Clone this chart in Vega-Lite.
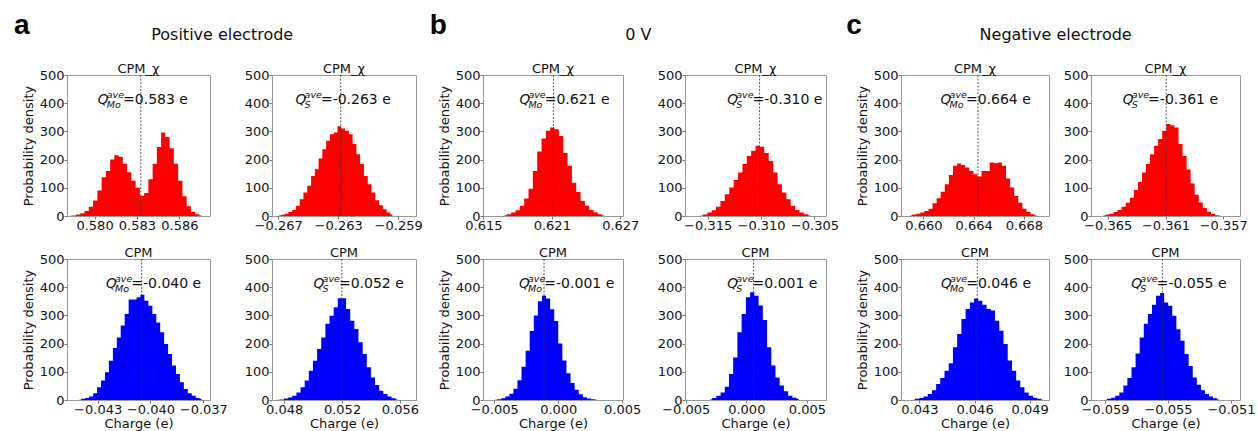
{
"$schema": "https://vega.github.io/schema/vega-lite/v6.json",
"padding": {"left": 13, "top": 11, "right": 0, "bottom": 0},
"spacing": 6,
"datasets": {
"m": [
{"p":"a1","m":0.58327,"s":"Mo","v":"=0.583 e"},
{"p":"a2","m":-0.26283,"s":"S","v":"=-0.263 e"},
{"p":"a3","m":-0.0405,"s":"Mo","v":"=-0.040 e"},
{"p":"a4","m":0.05199,"s":"S","v":"=0.052 e"},
{"p":"b1","m":0.62114,"s":"Mo","v":"=0.621 e"},
{"p":"b2","m":-0.31014,"s":"S","v":"=-0.310 e"},
{"p":"b3","m":-0.00111,"s":"Mo","v":"=-0.001 e"},
{"p":"b4","m":0.0006,"s":"S","v":"=0.001 e"},
{"p":"c1","m":0.66435,"s":"Mo","v":"=0.664 e"},
{"p":"c2","m":-0.36095,"s":"S","v":"=-0.361 e"},
{"p":"c3","m":0.04615,"s":"Mo","v":"=0.046 e"},
{"p":"c4","m":-0.05536,"s":"S","v":"=-0.055 e"}
],
"h": [
{"p":"a1","x":0.57824,"d":1},{"p":"a1","x":0.57854,"d":2},{"p":"a1","x":0.57884,"d":5},{"p":"a1","x":0.57914,"d":10},{"p":"a1","x":0.57944,"d":18},{"p":"a1","x":0.57974,"d":33},{"p":"a1","x":0.58005,"d":55},{"p":"a1","x":0.58035,"d":90},{"p":"a1","x":0.58065,"d":137},{"p":"a1","x":0.58095,"d":160},{"p":"a1","x":0.58125,"d":200},{"p":"a1","x":0.58155,"d":215},{"p":"a1","x":0.58185,"d":210},{"p":"a1","x":0.58215,"d":185},{"p":"a1","x":0.58245,"d":155},{"p":"a1","x":0.58275,"d":125},{"p":"a1","x":0.58306,"d":100},{"p":"a1","x":0.58336,"d":72},{"p":"a1","x":0.58366,"d":82},{"p":"a1","x":0.58396,"d":130},{"p":"a1","x":0.58426,"d":185},{"p":"a1","x":0.58456,"d":245},{"p":"a1","x":0.58486,"d":296},{"p":"a1","x":0.58516,"d":280},{"p":"a1","x":0.58546,"d":240},{"p":"a1","x":0.58576,"d":185},{"p":"a1","x":0.58607,"d":125},{"p":"a1","x":0.58637,"d":70},{"p":"a1","x":0.58667,"d":35},{"p":"a1","x":0.58697,"d":15},{"p":"a1","x":0.58727,"d":6},{"p":"a1","x":0.58757,"d":2},
{"p":"a2","x":-0.26695,"d":2},{"p":"a2","x":-0.26670,"d":4},{"p":"a2","x":-0.26645,"d":8},{"p":"a2","x":-0.26619,"d":14},{"p":"a2","x":-0.26594,"d":21},{"p":"a2","x":-0.26569,"d":36},{"p":"a2","x":-0.26544,"d":59},{"p":"a2","x":-0.26519,"d":83},{"p":"a2","x":-0.26493,"d":107},{"p":"a2","x":-0.26468,"d":142},{"p":"a2","x":-0.26443,"d":166},{"p":"a2","x":-0.26418,"d":204},{"p":"a2","x":-0.26393,"d":237},{"p":"a2","x":-0.26367,"d":267},{"p":"a2","x":-0.26342,"d":290},{"p":"a2","x":-0.26317,"d":296},{"p":"a2","x":-0.26292,"d":318},{"p":"a2","x":-0.26267,"d":310},{"p":"a2","x":-0.26241,"d":302},{"p":"a2","x":-0.26216,"d":290},{"p":"a2","x":-0.26191,"d":255},{"p":"a2","x":-0.26166,"d":219},{"p":"a2","x":-0.26141,"d":184},{"p":"a2","x":-0.26115,"d":142},{"p":"a2","x":-0.26090,"d":113},{"p":"a2","x":-0.26065,"d":83},{"p":"a2","x":-0.26040,"d":56},{"p":"a2","x":-0.26015,"d":38},{"p":"a2","x":-0.25989,"d":24},{"p":"a2","x":-0.25964,"d":12},{"p":"a2","x":-0.25939,"d":5},
{"p":"a3","x":-0.04404,"d":1},{"p":"a3","x":-0.04382,"d":4},{"p":"a3","x":-0.04359,"d":7},{"p":"a3","x":-0.04337,"d":12},{"p":"a3","x":-0.04314,"d":24},{"p":"a3","x":-0.04292,"d":45},{"p":"a3","x":-0.04270,"d":69},{"p":"a3","x":-0.04247,"d":98},{"p":"a3","x":-0.04225,"d":139},{"p":"a3","x":-0.04202,"d":184},{"p":"a3","x":-0.04180,"d":222},{"p":"a3","x":-0.04158,"d":264},{"p":"a3","x":-0.04135,"d":305},{"p":"a3","x":-0.04113,"d":356},{"p":"a3","x":-0.04090,"d":356},{"p":"a3","x":-0.04068,"d":364},{"p":"a3","x":-0.04046,"d":373},{"p":"a3","x":-0.04023,"d":352},{"p":"a3","x":-0.04001,"d":334},{"p":"a3","x":-0.03978,"d":305},{"p":"a3","x":-0.03956,"d":275},{"p":"a3","x":-0.03934,"d":240},{"p":"a3","x":-0.03911,"d":199},{"p":"a3","x":-0.03889,"d":163},{"p":"a3","x":-0.03866,"d":122},{"p":"a3","x":-0.03844,"d":92},{"p":"a3","x":-0.03822,"d":63},{"p":"a3","x":-0.03799,"d":39},{"p":"a3","x":-0.03777,"d":24},{"p":"a3","x":-0.03754,"d":15},{"p":"a3","x":-0.03732,"d":7},{"p":"a3","x":-0.03710,"d":4},
{"p":"a4","x":0.04756,"d":1},{"p":"a4","x":0.04785,"d":2},{"p":"a4","x":0.04813,"d":5},{"p":"a4","x":0.04842,"d":9},{"p":"a4","x":0.04870,"d":15},{"p":"a4","x":0.04899,"d":27},{"p":"a4","x":0.04928,"d":45},{"p":"a4","x":0.04956,"d":69},{"p":"a4","x":0.04985,"d":104},{"p":"a4","x":0.05013,"d":139},{"p":"a4","x":0.05042,"d":181},{"p":"a4","x":0.05071,"d":222},{"p":"a4","x":0.05099,"d":270},{"p":"a4","x":0.05128,"d":299},{"p":"a4","x":0.05156,"d":329},{"p":"a4","x":0.05185,"d":361},{"p":"a4","x":0.05214,"d":361},{"p":"a4","x":0.05242,"d":323},{"p":"a4","x":0.05271,"d":281},{"p":"a4","x":0.05299,"d":252},{"p":"a4","x":0.05328,"d":205},{"p":"a4","x":0.05357,"d":163},{"p":"a4","x":0.05385,"d":116},{"p":"a4","x":0.05414,"d":80},{"p":"a4","x":0.05442,"d":53},{"p":"a4","x":0.05471,"d":33},{"p":"a4","x":0.05500,"d":21},{"p":"a4","x":0.05528,"d":12},{"p":"a4","x":0.05557,"d":6},{"p":"a4","x":0.05585,"d":2},
{"p":"b1","x":0.61687,"d":3},{"p":"b1","x":0.61725,"d":6},{"p":"b1","x":0.61763,"d":12},{"p":"b1","x":0.61801,"d":20},{"p":"b1","x":0.61839,"d":36},{"p":"b1","x":0.61877,"d":62},{"p":"b1","x":0.61915,"d":97},{"p":"b1","x":0.61953,"d":160},{"p":"b1","x":0.61991,"d":229},{"p":"b1","x":0.62029,"d":275},{"p":"b1","x":0.62067,"d":302},{"p":"b1","x":0.62105,"d":314},{"p":"b1","x":0.62143,"d":308},{"p":"b1","x":0.62181,"d":284},{"p":"b1","x":0.62219,"d":223},{"p":"b1","x":0.62257,"d":178},{"p":"b1","x":0.62295,"d":118},{"p":"b1","x":0.62333,"d":85},{"p":"b1","x":0.62371,"d":53},{"p":"b1","x":0.62409,"d":36},{"p":"b1","x":0.62447,"d":21},{"p":"b1","x":0.62485,"d":12},{"p":"b1","x":0.62523,"d":6},{"p":"b1","x":0.62561,"d":2},
{"p":"b2","x":-0.31565,"d":2},{"p":"b2","x":-0.31524,"d":5},{"p":"b2","x":-0.31483,"d":12},{"p":"b2","x":-0.31442,"d":20},{"p":"b2","x":-0.31401,"d":33},{"p":"b2","x":-0.31360,"d":53},{"p":"b2","x":-0.31318,"d":77},{"p":"b2","x":-0.31277,"d":101},{"p":"b2","x":-0.31236,"d":128},{"p":"b2","x":-0.31195,"d":154},{"p":"b2","x":-0.31154,"d":184},{"p":"b2","x":-0.31113,"d":213},{"p":"b2","x":-0.31072,"d":231},{"p":"b2","x":-0.31031,"d":249},{"p":"b2","x":-0.30990,"d":246},{"p":"b2","x":-0.30949,"d":223},{"p":"b2","x":-0.30907,"d":195},{"p":"b2","x":-0.30866,"d":154},{"p":"b2","x":-0.30825,"d":113},{"p":"b2","x":-0.30784,"d":83},{"p":"b2","x":-0.30743,"d":59},{"p":"b2","x":-0.30702,"d":36},{"p":"b2","x":-0.30661,"d":21},{"p":"b2","x":-0.30620,"d":12},{"p":"b2","x":-0.30579,"d":6},{"p":"b2","x":-0.30538,"d":2},
{"p":"b3","x":-0.00494,"d":1},{"p":"b3","x":-0.00462,"d":3},{"p":"b3","x":-0.00430,"d":6},{"p":"b3","x":-0.00398,"d":12},{"p":"b3","x":-0.00366,"d":22},{"p":"b3","x":-0.00335,"d":40},{"p":"b3","x":-0.00303,"d":70},{"p":"b3","x":-0.00271,"d":118},{"p":"b3","x":-0.00239,"d":175},{"p":"b3","x":-0.00207,"d":245},{"p":"b3","x":-0.00175,"d":300},{"p":"b3","x":-0.00143,"d":350},{"p":"b3","x":-0.00111,"d":370},{"p":"b3","x":-0.00079,"d":360},{"p":"b3","x":-0.00047,"d":322},{"p":"b3","x":-0.00016,"d":280},{"p":"b3","x":0.00016,"d":200},{"p":"b3","x":0.00048,"d":140},{"p":"b3","x":0.00080,"d":95},{"p":"b3","x":0.00112,"d":60},{"p":"b3","x":0.00144,"d":36},{"p":"b3","x":0.00176,"d":20},{"p":"b3","x":0.00208,"d":10},{"p":"b3","x":0.00240,"d":5},{"p":"b3","x":0.00272,"d":3},{"p":"b3","x":0.00304,"d":1},
{"p":"b4","x":-0.00300,"d":2},{"p":"b4","x":-0.00265,"d":7},{"p":"b4","x":-0.00230,"d":15},{"p":"b4","x":-0.00195,"d":27},{"p":"b4","x":-0.00160,"d":47},{"p":"b4","x":-0.00126,"d":92},{"p":"b4","x":-0.00091,"d":151},{"p":"b4","x":-0.00056,"d":240},{"p":"b4","x":-0.00021,"d":305},{"p":"b4","x":0.00014,"d":364},{"p":"b4","x":0.00049,"d":382},{"p":"b4","x":0.00084,"d":370},{"p":"b4","x":0.00119,"d":335},{"p":"b4","x":0.00154,"d":284},{"p":"b4","x":0.00189,"d":187},{"p":"b4","x":0.00224,"d":122},{"p":"b4","x":0.00258,"d":80},{"p":"b4","x":0.00293,"d":51},{"p":"b4","x":0.00328,"d":31},{"p":"b4","x":0.00363,"d":15},{"p":"b4","x":0.00398,"d":8},{"p":"b4","x":0.00433,"d":4},
{"p":"c1","x":0.65894,"d":2},{"p":"c1","x":0.65927,"d":5},{"p":"c1","x":0.65959,"d":8},{"p":"c1","x":0.65992,"d":12},{"p":"c1","x":0.66024,"d":18},{"p":"c1","x":0.66057,"d":26},{"p":"c1","x":0.66089,"d":45},{"p":"c1","x":0.66122,"d":63},{"p":"c1","x":0.66154,"d":86},{"p":"c1","x":0.66187,"d":113},{"p":"c1","x":0.66219,"d":145},{"p":"c1","x":0.66252,"d":178},{"p":"c1","x":0.66284,"d":186},{"p":"c1","x":0.66317,"d":181},{"p":"c1","x":0.66349,"d":172},{"p":"c1","x":0.66382,"d":160},{"p":"c1","x":0.66414,"d":148},{"p":"c1","x":0.66447,"d":140},{"p":"c1","x":0.66479,"d":160},{"p":"c1","x":0.66512,"d":160},{"p":"c1","x":0.66544,"d":190},{"p":"c1","x":0.66577,"d":187},{"p":"c1","x":0.66609,"d":190},{"p":"c1","x":0.66642,"d":178},{"p":"c1","x":0.66674,"d":133},{"p":"c1","x":0.66707,"d":101},{"p":"c1","x":0.66739,"d":71},{"p":"c1","x":0.66772,"d":47},{"p":"c1","x":0.66804,"d":26},{"p":"c1","x":0.66837,"d":14},{"p":"c1","x":0.66869,"d":6},{"p":"c1","x":0.66902,"d":2},
{"p":"c2","x":-0.36530,"d":2},{"p":"c2","x":-0.36502,"d":5},{"p":"c2","x":-0.36474,"d":8},{"p":"c2","x":-0.36446,"d":14},{"p":"c2","x":-0.36418,"d":21},{"p":"c2","x":-0.36390,"d":33},{"p":"c2","x":-0.36361,"d":47},{"p":"c2","x":-0.36333,"d":65},{"p":"c2","x":-0.36305,"d":92},{"p":"c2","x":-0.36277,"d":121},{"p":"c2","x":-0.36249,"d":154},{"p":"c2","x":-0.36221,"d":184},{"p":"c2","x":-0.36193,"d":219},{"p":"c2","x":-0.36165,"d":249},{"p":"c2","x":-0.36137,"d":273},{"p":"c2","x":-0.36109,"d":302},{"p":"c2","x":-0.36080,"d":326},{"p":"c2","x":-0.36052,"d":322},{"p":"c2","x":-0.36024,"d":314},{"p":"c2","x":-0.35996,"d":255},{"p":"c2","x":-0.35968,"d":213},{"p":"c2","x":-0.35940,"d":165},{"p":"c2","x":-0.35912,"d":115},{"p":"c2","x":-0.35884,"d":75},{"p":"c2","x":-0.35856,"d":48},{"p":"c2","x":-0.35828,"d":28},{"p":"c2","x":-0.35799,"d":15},{"p":"c2","x":-0.35771,"d":7},{"p":"c2","x":-0.35743,"d":3},{"p":"c2","x":-0.35715,"d":1},
{"p":"c3","x":0.04265,"d":1},{"p":"c3","x":0.04288,"d":4},{"p":"c3","x":0.04311,"d":7},{"p":"c3","x":0.04334,"d":12},{"p":"c3","x":0.04357,"d":21},{"p":"c3","x":0.04380,"d":35},{"p":"c3","x":0.04402,"d":57},{"p":"c3","x":0.04425,"d":78},{"p":"c3","x":0.04448,"d":104},{"p":"c3","x":0.04471,"d":130},{"p":"c3","x":0.04494,"d":187},{"p":"c3","x":0.04517,"d":234},{"p":"c3","x":0.04540,"d":287},{"p":"c3","x":0.04563,"d":323},{"p":"c3","x":0.04586,"d":346},{"p":"c3","x":0.04609,"d":360},{"p":"c3","x":0.04631,"d":352},{"p":"c3","x":0.04654,"d":338},{"p":"c3","x":0.04677,"d":323},{"p":"c3","x":0.04700,"d":317},{"p":"c3","x":0.04723,"d":281},{"p":"c3","x":0.04746,"d":246},{"p":"c3","x":0.04769,"d":199},{"p":"c3","x":0.04792,"d":140},{"p":"c3","x":0.04815,"d":104},{"p":"c3","x":0.04838,"d":69},{"p":"c3","x":0.04860,"d":45},{"p":"c3","x":0.04883,"d":27},{"p":"c3","x":0.04906,"d":15},{"p":"c3","x":0.04929,"d":8},{"p":"c3","x":0.04952,"d":4},{"p":"c3","x":0.04975,"d":1},
{"p":"c4","x":-0.05900,"d":1},{"p":"c4","x":-0.05874,"d":4},{"p":"c4","x":-0.05848,"d":8},{"p":"c4","x":-0.05822,"d":15},{"p":"c4","x":-0.05796,"d":27},{"p":"c4","x":-0.05771,"d":51},{"p":"c4","x":-0.05745,"d":78},{"p":"c4","x":-0.05719,"d":116},{"p":"c4","x":-0.05693,"d":165},{"p":"c4","x":-0.05667,"d":222},{"p":"c4","x":-0.05641,"d":270},{"p":"c4","x":-0.05615,"d":305},{"p":"c4","x":-0.05589,"d":338},{"p":"c4","x":-0.05563,"d":370},{"p":"c4","x":-0.05537,"d":379},{"p":"c4","x":-0.05512,"d":346},{"p":"c4","x":-0.05486,"d":334},{"p":"c4","x":-0.05460,"d":299},{"p":"c4","x":-0.05434,"d":251},{"p":"c4","x":-0.05408,"d":210},{"p":"c4","x":-0.05382,"d":163},{"p":"c4","x":-0.05356,"d":121},{"p":"c4","x":-0.05330,"d":80},{"p":"c4","x":-0.05304,"d":54},{"p":"c4","x":-0.05278,"d":35},{"p":"c4","x":-0.05253,"d":21},{"p":"c4","x":-0.05227,"d":12},{"p":"c4","x":-0.05201,"d":6},{"p":"c4","x":-0.05175,"d":2}
]
},
"hconcat": [
{"title": {"text": "a", "anchor": "start", "font": "Liberation Sans", "fontSize": 28, "fontWeight": "bold", "color": "#000", "offset": -34.8, "dx": -7.7, "baseline": "alphabetic"},
 "vconcat": [{"title": {"text": "Positive electrode", "anchor": "middle", "fontSize": 16, "offset": 7.1, "baseline": "alphabetic"},
  "columns": 2, "bounds": "flush", "spacing": {"row": 43, "column": 62},
  "concat": [
  {"width": 143, "height": 141, "title": "CPM_χ", "layer": [
   {"data": {"name": "h"}, "transform": [{"filter": "datum.p==='a1'"}], "mark": {"type": "area", "interpolate": "step", "color": "#ff0000"},
    "encoding": {"x": {"field": "x", "type": "quantitative", "scale": {"domain": [0.57805, 0.58817], "nice": false, "zero": false}, "axis": {"values": [0.580, 0.583, 0.586], "format": ".3f", "title": null}},
                 "y": {"field": "d", "type": "quantitative", "scale": {"domain": [0, 500], "nice": false}, "axis": {"values": [0, 100, 200, 300, 400, 500], "title": "Probability density"}}}},
   {"data": {"name": "m"}, "transform": [{"filter": "datum.p==='a1'"}], "mark": {"type": "rule", "color": "#333", "strokeWidth": 0.8, "strokeDash": [2, 1.5]}, "encoding": {"x": {"field": "m", "type": "quantitative"}}},
   {"data": {"name": "m"}, "transform": [{"filter": "datum.p==='a1'"}], "mark": {"type": "text", "text": "Q", "fontSize": 13.5, "fontStyle": "italic", "dx": -43}, "encoding": {"x": {"field": "m", "type": "quantitative"}, "y": {"datum": 397}}},
   {"data": {"name": "m"}, "transform": [{"filter": "datum.p==='a1'"}], "mark": {"type": "text", "text": "ave", "fontSize": 9.5, "fontStyle": "italic", "dx": -34, "dy": -6.5}, "encoding": {"x": {"field": "m", "type": "quantitative"}, "y": {"datum": 397}}},
   {"data": {"name": "m"}, "transform": [{"filter": "datum.p==='a1'"}], "mark": {"type": "text", "fontSize": 9.5, "fontStyle": "italic", "dx": -34, "dy": 3.5}, "encoding": {"x": {"field": "m", "type": "quantitative"}, "y": {"datum": 397}, "text": {"field": "s"}}},
   {"data": {"name": "m"}, "transform": [{"filter": "datum.p==='a1'"}], "mark": {"type": "text", "fontSize": 14, "dx": -17.7}, "encoding": {"x": {"field": "m", "type": "quantitative"}, "y": {"datum": 397}, "text": {"field": "v"}}}
  ]},
  {"width": 144, "height": 141, "title": "CPM_χ", "layer": [
   {"data": {"name": "h"}, "transform": [{"filter": "datum.p==='a2'"}], "mark": {"type": "area", "interpolate": "step", "color": "#ff0000"},
    "encoding": {"x": {"field": "x", "type": "quantitative", "scale": {"domain": [-0.26741, -0.25781], "nice": false, "zero": false}, "axis": {"values": [-0.267, -0.263, -0.259], "format": ".3f", "title": null}},
                 "y": {"field": "d", "type": "quantitative", "scale": {"domain": [0, 500], "nice": false}, "axis": {"values": [0, 100, 200, 300, 400, 500], "title": null}}}},
   {"data": {"name": "m"}, "transform": [{"filter": "datum.p==='a2'"}], "mark": {"type": "rule", "color": "#333", "strokeWidth": 0.8, "strokeDash": [2, 1.5]}, "encoding": {"x": {"field": "m", "type": "quantitative"}}},
   {"data": {"name": "m"}, "transform": [{"filter": "datum.p==='a2'"}], "mark": {"type": "text", "text": "Q", "fontSize": 13.5, "fontStyle": "italic", "dx": -45.1}, "encoding": {"x": {"field": "m", "type": "quantitative"}, "y": {"datum": 397}}},
   {"data": {"name": "m"}, "transform": [{"filter": "datum.p==='a2'"}], "mark": {"type": "text", "text": "ave", "fontSize": 9.5, "fontStyle": "italic", "dx": -36.1, "dy": -6.5}, "encoding": {"x": {"field": "m", "type": "quantitative"}, "y": {"datum": 397}}},
   {"data": {"name": "m"}, "transform": [{"filter": "datum.p==='a2'"}], "mark": {"type": "text", "fontSize": 9.5, "fontStyle": "italic", "dx": -36.1, "dy": 3.5}, "encoding": {"x": {"field": "m", "type": "quantitative"}, "y": {"datum": 397}, "text": {"field": "s"}}},
   {"data": {"name": "m"}, "transform": [{"filter": "datum.p==='a2'"}], "mark": {"type": "text", "fontSize": 14, "dx": -19.8}, "encoding": {"x": {"field": "m", "type": "quantitative"}, "y": {"datum": 397}, "text": {"field": "v"}}}
  ]},
  {"width": 143, "height": 141, "title": "CPM", "layer": [
   {"data": {"name": "h"}, "transform": [{"filter": "datum.p==='a3'"}], "mark": {"type": "area", "interpolate": "step", "color": "#0000ff"},
    "encoding": {"x": {"field": "x", "type": "quantitative", "scale": {"domain": [-0.04474, -0.03662], "nice": false, "zero": false}, "axis": {"values": [-0.043, -0.040, -0.037], "format": ".3f", "title": "Charge (e)"}},
                 "y": {"field": "d", "type": "quantitative", "scale": {"domain": [0, 500], "nice": false}, "axis": {"values": [0, 100, 200, 300, 400, 500], "title": "Probability density"}}}},
   {"data": {"name": "m"}, "transform": [{"filter": "datum.p==='a3'"}], "mark": {"type": "rule", "color": "#333", "strokeWidth": 0.8, "strokeDash": [2, 1.5]}, "encoding": {"x": {"field": "m", "type": "quantitative"}}},
   {"data": {"name": "m"}, "transform": [{"filter": "datum.p==='a3'"}], "mark": {"type": "text", "text": "Q", "fontSize": 13.5, "fontStyle": "italic", "dx": -35.7}, "encoding": {"x": {"field": "m", "type": "quantitative"}, "y": {"datum": 397}}},
   {"data": {"name": "m"}, "transform": [{"filter": "datum.p==='a3'"}], "mark": {"type": "text", "text": "ave", "fontSize": 9.5, "fontStyle": "italic", "dx": -26.7, "dy": -6.5}, "encoding": {"x": {"field": "m", "type": "quantitative"}, "y": {"datum": 397}}},
   {"data": {"name": "m"}, "transform": [{"filter": "datum.p==='a3'"}], "mark": {"type": "text", "fontSize": 9.5, "fontStyle": "italic", "dx": -26.7, "dy": 3.5}, "encoding": {"x": {"field": "m", "type": "quantitative"}, "y": {"datum": 397}, "text": {"field": "s"}}},
   {"data": {"name": "m"}, "transform": [{"filter": "datum.p==='a3'"}], "mark": {"type": "text", "fontSize": 14, "dx": -10.4}, "encoding": {"x": {"field": "m", "type": "quantitative"}, "y": {"datum": 397}, "text": {"field": "v"}}}
  ]},
  {"width": 144, "height": 141, "title": "CPM", "layer": [
   {"data": {"name": "h"}, "transform": [{"filter": "datum.p==='a4'"}], "mark": {"type": "area", "interpolate": "step", "color": "#0000ff"},
    "encoding": {"x": {"field": "x", "type": "quantitative", "scale": {"domain": [0.04716, 0.05711], "nice": false, "zero": false}, "axis": {"values": [0.048, 0.052, 0.056], "format": ".3f", "title": "Charge (e)"}},
                 "y": {"field": "d", "type": "quantitative", "scale": {"domain": [0, 500], "nice": false}, "axis": {"values": [0, 100, 200, 300, 400, 500], "title": null}}}},
   {"data": {"name": "m"}, "transform": [{"filter": "datum.p==='a4'"}], "mark": {"type": "rule", "color": "#333", "strokeWidth": 0.8, "strokeDash": [2, 1.5]}, "encoding": {"x": {"field": "m", "type": "quantitative"}}},
   {"data": {"name": "m"}, "transform": [{"filter": "datum.p==='a4'"}], "mark": {"type": "text", "text": "Q", "fontSize": 13.5, "fontStyle": "italic", "dx": -28.3}, "encoding": {"x": {"field": "m", "type": "quantitative"}, "y": {"datum": 397}}},
   {"data": {"name": "m"}, "transform": [{"filter": "datum.p==='a4'"}], "mark": {"type": "text", "text": "ave", "fontSize": 9.5, "fontStyle": "italic", "dx": -19.3, "dy": -6.5}, "encoding": {"x": {"field": "m", "type": "quantitative"}, "y": {"datum": 397}}},
   {"data": {"name": "m"}, "transform": [{"filter": "datum.p==='a4'"}], "mark": {"type": "text", "fontSize": 9.5, "fontStyle": "italic", "dx": -19.3, "dy": 3.5}, "encoding": {"x": {"field": "m", "type": "quantitative"}, "y": {"datum": 397}, "text": {"field": "s"}}},
   {"data": {"name": "m"}, "transform": [{"filter": "datum.p==='a4'"}], "mark": {"type": "text", "fontSize": 14, "dx": -3}, "encoding": {"x": {"field": "m", "type": "quantitative"}, "y": {"datum": 397}, "text": {"field": "v"}}}
  ]}
  ]}]},
{"title": {"text": "b", "anchor": "start", "font": "Liberation Sans", "fontSize": 28, "fontWeight": "bold", "color": "#000", "offset": -34.8, "dx": -7.9, "baseline": "alphabetic"},
 "vconcat": [{"title": {"text": "0 V", "anchor": "middle", "fontSize": 16, "offset": 7.1, "baseline": "alphabetic"},
  "columns": 2, "bounds": "flush", "spacing": {"row": 43, "column": 62},
  "concat": [
  {"width": 140, "height": 141, "title": "CPM_χ", "layer": [
   {"data": {"name": "h"}, "transform": [{"filter": "datum.p==='b1'"}], "mark": {"type": "area", "interpolate": "step", "color": "#ff0000"},
    "encoding": {"x": {"field": "x", "type": "quantitative", "scale": {"domain": [0.61497, 0.62724], "nice": false, "zero": false}, "axis": {"values": [0.615, 0.621, 0.627], "format": ".3f", "title": null}},
                 "y": {"field": "d", "type": "quantitative", "scale": {"domain": [0, 500], "nice": false}, "axis": {"values": [0, 100, 200, 300, 400, 500], "title": "Probability density"}}}},
   {"data": {"name": "m"}, "transform": [{"filter": "datum.p==='b1'"}], "mark": {"type": "rule", "color": "#333", "strokeWidth": 0.8, "strokeDash": [2, 1.5]}, "encoding": {"x": {"field": "m", "type": "quantitative"}}},
   {"data": {"name": "m"}, "transform": [{"filter": "datum.p==='b1'"}], "mark": {"type": "text", "text": "Q", "fontSize": 13.5, "fontStyle": "italic", "dx": -34}, "encoding": {"x": {"field": "m", "type": "quantitative"}, "y": {"datum": 397}}},
   {"data": {"name": "m"}, "transform": [{"filter": "datum.p==='b1'"}], "mark": {"type": "text", "text": "ave", "fontSize": 9.5, "fontStyle": "italic", "dx": -25, "dy": -6.5}, "encoding": {"x": {"field": "m", "type": "quantitative"}, "y": {"datum": 397}}},
   {"data": {"name": "m"}, "transform": [{"filter": "datum.p==='b1'"}], "mark": {"type": "text", "fontSize": 9.5, "fontStyle": "italic", "dx": -25, "dy": 3.5}, "encoding": {"x": {"field": "m", "type": "quantitative"}, "y": {"datum": 397}, "text": {"field": "s"}}},
   {"data": {"name": "m"}, "transform": [{"filter": "datum.p==='b1'"}], "mark": {"type": "text", "fontSize": 14, "dx": -8.7}, "encoding": {"x": {"field": "m", "type": "quantitative"}, "y": {"datum": 397}, "text": {"field": "v"}}}
  ]},
  {"width": 141, "height": 141, "title": "CPM_χ", "layer": [
   {"data": {"name": "h"}, "transform": [{"filter": "datum.p==='b2'"}], "mark": {"type": "area", "interpolate": "step", "color": "#ff0000"},
    "encoding": {"x": {"field": "x", "type": "quantitative", "scale": {"domain": [-0.31712, -0.30392], "nice": false, "zero": false}, "axis": {"values": [-0.315, -0.310, -0.305], "format": ".3f", "title": null}},
                 "y": {"field": "d", "type": "quantitative", "scale": {"domain": [0, 500], "nice": false}, "axis": {"values": [0, 100, 200, 300, 400, 500], "title": null}}}},
   {"data": {"name": "m"}, "transform": [{"filter": "datum.p==='b2'"}], "mark": {"type": "rule", "color": "#333", "strokeWidth": 0.8, "strokeDash": [2, 1.5]}, "encoding": {"x": {"field": "m", "type": "quantitative"}}},
   {"data": {"name": "m"}, "transform": [{"filter": "datum.p==='b2'"}], "mark": {"type": "text", "text": "Q", "fontSize": 13.5, "fontStyle": "italic", "dx": -32.3}, "encoding": {"x": {"field": "m", "type": "quantitative"}, "y": {"datum": 397}}},
   {"data": {"name": "m"}, "transform": [{"filter": "datum.p==='b2'"}], "mark": {"type": "text", "text": "ave", "fontSize": 9.5, "fontStyle": "italic", "dx": -23.3, "dy": -6.5}, "encoding": {"x": {"field": "m", "type": "quantitative"}, "y": {"datum": 397}}},
   {"data": {"name": "m"}, "transform": [{"filter": "datum.p==='b2'"}], "mark": {"type": "text", "fontSize": 9.5, "fontStyle": "italic", "dx": -23.3, "dy": 3.5}, "encoding": {"x": {"field": "m", "type": "quantitative"}, "y": {"datum": 397}, "text": {"field": "s"}}},
   {"data": {"name": "m"}, "transform": [{"filter": "datum.p==='b2'"}], "mark": {"type": "text", "fontSize": 14, "dx": -7}, "encoding": {"x": {"field": "m", "type": "quantitative"}, "y": {"datum": 397}, "text": {"field": "v"}}}
  ]},
  {"width": 140, "height": 141, "title": "CPM", "layer": [
   {"data": {"name": "h"}, "transform": [{"filter": "datum.p==='b3'"}], "mark": {"type": "area", "interpolate": "step", "color": "#0000ff"},
    "encoding": {"x": {"field": "x", "type": "quantitative", "scale": {"domain": [-0.00588, 0.00506], "nice": false, "zero": false}, "axis": {"values": [-0.005, 0, 0.005], "format": ".3f", "title": "Charge (e)"}},
                 "y": {"field": "d", "type": "quantitative", "scale": {"domain": [0, 500], "nice": false}, "axis": {"values": [0, 100, 200, 300, 400, 500], "title": "Probability density"}}}},
   {"data": {"name": "m"}, "transform": [{"filter": "datum.p==='b3'"}], "mark": {"type": "rule", "color": "#333", "strokeWidth": 0.8, "strokeDash": [2, 1.5]}, "encoding": {"x": {"field": "m", "type": "quantitative"}}},
   {"data": {"name": "m"}, "transform": [{"filter": "datum.p==='b3'"}], "mark": {"type": "text", "text": "Q", "fontSize": 13.5, "fontStyle": "italic", "dx": -25}, "encoding": {"x": {"field": "m", "type": "quantitative"}, "y": {"datum": 397}}},
   {"data": {"name": "m"}, "transform": [{"filter": "datum.p==='b3'"}], "mark": {"type": "text", "text": "ave", "fontSize": 9.5, "fontStyle": "italic", "dx": -16, "dy": -6.5}, "encoding": {"x": {"field": "m", "type": "quantitative"}, "y": {"datum": 397}}},
   {"data": {"name": "m"}, "transform": [{"filter": "datum.p==='b3'"}], "mark": {"type": "text", "fontSize": 9.5, "fontStyle": "italic", "dx": -16, "dy": 3.5}, "encoding": {"x": {"field": "m", "type": "quantitative"}, "y": {"datum": 397}, "text": {"field": "s"}}},
   {"data": {"name": "m"}, "transform": [{"filter": "datum.p==='b3'"}], "mark": {"type": "text", "fontSize": 14, "dx": 0.3}, "encoding": {"x": {"field": "m", "type": "quantitative"}, "y": {"datum": 397}, "text": {"field": "v"}}}
  ]},
  {"width": 141, "height": 141, "title": "CPM", "layer": [
   {"data": {"name": "h"}, "transform": [{"filter": "datum.p==='b4'"}], "mark": {"type": "area", "interpolate": "step", "color": "#0000ff"},
    "encoding": {"x": {"field": "x", "type": "quantitative", "scale": {"domain": [-0.00506, 0.00658], "nice": false, "zero": false}, "axis": {"values": [-0.005, 0, 0.005], "format": ".3f", "title": "Charge (e)"}},
                 "y": {"field": "d", "type": "quantitative", "scale": {"domain": [0, 500], "nice": false}, "axis": {"values": [0, 100, 200, 300, 400, 500], "title": null}}}},
   {"data": {"name": "m"}, "transform": [{"filter": "datum.p==='b4'"}], "mark": {"type": "rule", "color": "#333", "strokeWidth": 0.8, "strokeDash": [2, 1.5]}, "encoding": {"x": {"field": "m", "type": "quantitative"}}},
   {"data": {"name": "m"}, "transform": [{"filter": "datum.p==='b4'"}], "mark": {"type": "text", "text": "Q", "fontSize": 13.5, "fontStyle": "italic", "dx": -26.3}, "encoding": {"x": {"field": "m", "type": "quantitative"}, "y": {"datum": 397}}},
   {"data": {"name": "m"}, "transform": [{"filter": "datum.p==='b4'"}], "mark": {"type": "text", "text": "ave", "fontSize": 9.5, "fontStyle": "italic", "dx": -17.3, "dy": -6.5}, "encoding": {"x": {"field": "m", "type": "quantitative"}, "y": {"datum": 397}}},
   {"data": {"name": "m"}, "transform": [{"filter": "datum.p==='b4'"}], "mark": {"type": "text", "fontSize": 9.5, "fontStyle": "italic", "dx": -17.3, "dy": 3.5}, "encoding": {"x": {"field": "m", "type": "quantitative"}, "y": {"datum": 397}, "text": {"field": "s"}}},
   {"data": {"name": "m"}, "transform": [{"filter": "datum.p==='b4'"}], "mark": {"type": "text", "fontSize": 14, "dx": -1}, "encoding": {"x": {"field": "m", "type": "quantitative"}, "y": {"datum": 397}, "text": {"field": "v"}}}
  ]}
  ]}]},
{"title": {"text": "c", "anchor": "start", "font": "Liberation Sans", "fontSize": 28, "fontWeight": "bold", "color": "#000", "offset": -34.8, "dx": -9.4, "baseline": "alphabetic"},
 "vconcat": [{"title": {"text": "Negative electrode", "anchor": "middle", "fontSize": 16, "offset": 7.1, "baseline": "alphabetic"},
  "columns": 2, "bounds": "flush", "spacing": {"row": 43, "column": 42},
  "concat": [
  {"width": 148, "height": 141, "title": "CPM_χ", "layer": [
   {"data": {"name": "h"}, "transform": [{"filter": "datum.p==='c1'"}], "mark": {"type": "area", "interpolate": "step", "color": "#ff0000"},
    "encoding": {"x": {"field": "x", "type": "quantitative", "scale": {"domain": [0.65822, 0.67], "nice": false, "zero": false}, "axis": {"values": [0.660, 0.664, 0.668], "format": ".3f", "title": null}},
                 "y": {"field": "d", "type": "quantitative", "scale": {"domain": [0, 500], "nice": false}, "axis": {"values": [0, 100, 200, 300, 400, 500], "title": "Probability density"}}}},
   {"data": {"name": "m"}, "transform": [{"filter": "datum.p==='c1'"}], "mark": {"type": "rule", "color": "#333", "strokeWidth": 0.8, "strokeDash": [2, 1.5]}, "encoding": {"x": {"field": "m", "type": "quantitative"}}},
   {"data": {"name": "m"}, "transform": [{"filter": "datum.p==='c1'"}], "mark": {"type": "text", "text": "Q", "fontSize": 13.5, "fontStyle": "italic", "dx": -37.4}, "encoding": {"x": {"field": "m", "type": "quantitative"}, "y": {"datum": 397}}},
   {"data": {"name": "m"}, "transform": [{"filter": "datum.p==='c1'"}], "mark": {"type": "text", "text": "ave", "fontSize": 9.5, "fontStyle": "italic", "dx": -28.4, "dy": -6.5}, "encoding": {"x": {"field": "m", "type": "quantitative"}, "y": {"datum": 397}}},
   {"data": {"name": "m"}, "transform": [{"filter": "datum.p==='c1'"}], "mark": {"type": "text", "fontSize": 9.5, "fontStyle": "italic", "dx": -28.4, "dy": 3.5}, "encoding": {"x": {"field": "m", "type": "quantitative"}, "y": {"datum": 397}, "text": {"field": "s"}}},
   {"data": {"name": "m"}, "transform": [{"filter": "datum.p==='c1'"}], "mark": {"type": "text", "fontSize": 14, "dx": -12.1}, "encoding": {"x": {"field": "m", "type": "quantitative"}, "y": {"datum": 397}, "text": {"field": "v"}}}
  ]},
  {"width": 149, "height": 141, "title": "CPM_χ", "layer": [
   {"data": {"name": "h"}, "transform": [{"filter": "datum.p==='c2'"}], "mark": {"type": "area", "interpolate": "step", "color": "#ff0000"},
    "encoding": {"x": {"field": "x", "type": "quantitative", "scale": {"domain": [-0.36616, -0.35584], "nice": false, "zero": false}, "axis": {"values": [-0.365, -0.361, -0.357], "format": ".3f", "title": null}},
                 "y": {"field": "d", "type": "quantitative", "scale": {"domain": [0, 500], "nice": false}, "axis": {"values": [0, 100, 200, 300, 400, 500], "title": null}}}},
   {"data": {"name": "m"}, "transform": [{"filter": "datum.p==='c2'"}], "mark": {"type": "rule", "color": "#333", "strokeWidth": 0.8, "strokeDash": [2, 1.5]}, "encoding": {"x": {"field": "m", "type": "quantitative"}}},
   {"data": {"name": "m"}, "transform": [{"filter": "datum.p==='c2'"}], "mark": {"type": "text", "text": "Q", "fontSize": 13.5, "fontStyle": "italic", "dx": -43.4}, "encoding": {"x": {"field": "m", "type": "quantitative"}, "y": {"datum": 397}}},
   {"data": {"name": "m"}, "transform": [{"filter": "datum.p==='c2'"}], "mark": {"type": "text", "text": "ave", "fontSize": 9.5, "fontStyle": "italic", "dx": -34.4, "dy": -6.5}, "encoding": {"x": {"field": "m", "type": "quantitative"}, "y": {"datum": 397}}},
   {"data": {"name": "m"}, "transform": [{"filter": "datum.p==='c2'"}], "mark": {"type": "text", "fontSize": 9.5, "fontStyle": "italic", "dx": -34.4, "dy": 3.5}, "encoding": {"x": {"field": "m", "type": "quantitative"}, "y": {"datum": 397}, "text": {"field": "s"}}},
   {"data": {"name": "m"}, "transform": [{"filter": "datum.p==='c2'"}], "mark": {"type": "text", "fontSize": 14, "dx": -18.1}, "encoding": {"x": {"field": "m", "type": "quantitative"}, "y": {"datum": 397}, "text": {"field": "v"}}}
  ]},
  {"width": 148, "height": 141, "title": "CPM", "layer": [
   {"data": {"name": "h"}, "transform": [{"filter": "datum.p==='c3'"}], "mark": {"type": "area", "interpolate": "step", "color": "#0000ff"},
    "encoding": {"x": {"field": "x", "type": "quantitative", "scale": {"domain": [0.042, 0.05005], "nice": false, "zero": false}, "axis": {"values": [0.043, 0.046, 0.049], "format": ".3f", "title": "Charge (e)"}},
                 "y": {"field": "d", "type": "quantitative", "scale": {"domain": [0, 500], "nice": false}, "axis": {"values": [0, 100, 200, 300, 400, 500], "title": "Probability density"}}}},
   {"data": {"name": "m"}, "transform": [{"filter": "datum.p==='c3'"}], "mark": {"type": "rule", "color": "#333", "strokeWidth": 0.8, "strokeDash": [2, 1.5]}, "encoding": {"x": {"field": "m", "type": "quantitative"}}},
   {"data": {"name": "m"}, "transform": [{"filter": "datum.p==='c3'"}], "mark": {"type": "text", "text": "Q", "fontSize": 13.5, "fontStyle": "italic", "dx": -36.4}, "encoding": {"x": {"field": "m", "type": "quantitative"}, "y": {"datum": 397}}},
   {"data": {"name": "m"}, "transform": [{"filter": "datum.p==='c3'"}], "mark": {"type": "text", "text": "ave", "fontSize": 9.5, "fontStyle": "italic", "dx": -27.4, "dy": -6.5}, "encoding": {"x": {"field": "m", "type": "quantitative"}, "y": {"datum": 397}}},
   {"data": {"name": "m"}, "transform": [{"filter": "datum.p==='c3'"}], "mark": {"type": "text", "fontSize": 9.5, "fontStyle": "italic", "dx": -27.4, "dy": 3.5}, "encoding": {"x": {"field": "m", "type": "quantitative"}, "y": {"datum": 397}, "text": {"field": "s"}}},
   {"data": {"name": "m"}, "transform": [{"filter": "datum.p==='c3'"}], "mark": {"type": "text", "fontSize": 14, "dx": -11.1}, "encoding": {"x": {"field": "m", "type": "quantitative"}, "y": {"datum": 397}, "text": {"field": "v"}}}
  ]},
  {"width": 149, "height": 141, "title": "CPM", "layer": [
   {"data": {"name": "h"}, "transform": [{"filter": "datum.p==='c4'"}], "mark": {"type": "area", "interpolate": "step", "color": "#0000ff"},
    "encoding": {"x": {"field": "x", "type": "quantitative", "scale": {"domain": [-0.05989, -0.05043], "nice": false, "zero": false}, "axis": {"values": [-0.059, -0.055, -0.051], "format": ".3f", "title": "Charge (e)"}},
                 "y": {"field": "d", "type": "quantitative", "scale": {"domain": [0, 500], "nice": false}, "axis": {"values": [0, 100, 200, 300, 400, 500], "title": null}}}},
   {"data": {"name": "m"}, "transform": [{"filter": "datum.p==='c4'"}], "mark": {"type": "rule", "color": "#333", "strokeWidth": 0.8, "strokeDash": [2, 1.5]}, "encoding": {"x": {"field": "m", "type": "quantitative"}}},
   {"data": {"name": "m"}, "transform": [{"filter": "datum.p==='c4'"}], "mark": {"type": "text", "text": "Q", "fontSize": 13.5, "fontStyle": "italic", "dx": -31}, "encoding": {"x": {"field": "m", "type": "quantitative"}, "y": {"datum": 397}}},
   {"data": {"name": "m"}, "transform": [{"filter": "datum.p==='c4'"}], "mark": {"type": "text", "text": "ave", "fontSize": 9.5, "fontStyle": "italic", "dx": -22, "dy": -6.5}, "encoding": {"x": {"field": "m", "type": "quantitative"}, "y": {"datum": 397}}},
   {"data": {"name": "m"}, "transform": [{"filter": "datum.p==='c4'"}], "mark": {"type": "text", "fontSize": 9.5, "fontStyle": "italic", "dx": -22, "dy": 3.5}, "encoding": {"x": {"field": "m", "type": "quantitative"}, "y": {"datum": 397}, "text": {"field": "s"}}},
   {"data": {"name": "m"}, "transform": [{"filter": "datum.p==='c4'"}], "mark": {"type": "text", "fontSize": 14, "dx": -5.7}, "encoding": {"x": {"field": "m", "type": "quantitative"}, "y": {"datum": 397}, "text": {"field": "v"}}}
  ]}
  ]}]}
],
"config": {
 "font": "DejaVu Sans",
 "view": {"stroke": "#999", "strokeWidth": 1},
 "axis": {"labelFont": "DejaVu Sans", "labelFontSize": 13, "labelColor": "#111", "titleFont": "DejaVu Sans", "titleFontSize": 13, "titleFontWeight": "normal", "titleColor": "#111", "tickColor": "#777", "tickSize": 3, "labelPadding": 0, "domain": false, "grid": false, "labelOverlap": false, "labelFlush": false, "labelBound": false},
 "axisY": {"titlePadding": 4, "labelOverlap": false, "tickCount": 6},
 "axisX": {"titlePadding": 1.5, "labelOverlap": false},
 "title": {"font": "DejaVu Sans", "fontSize": 13, "fontWeight": "normal", "color": "#111", "offset": -7.3, "baseline": "alphabetic"},
 "text": {"font": "DejaVu Sans", "align": "left", "baseline": "alphabetic", "color": "#111"}
}
}
